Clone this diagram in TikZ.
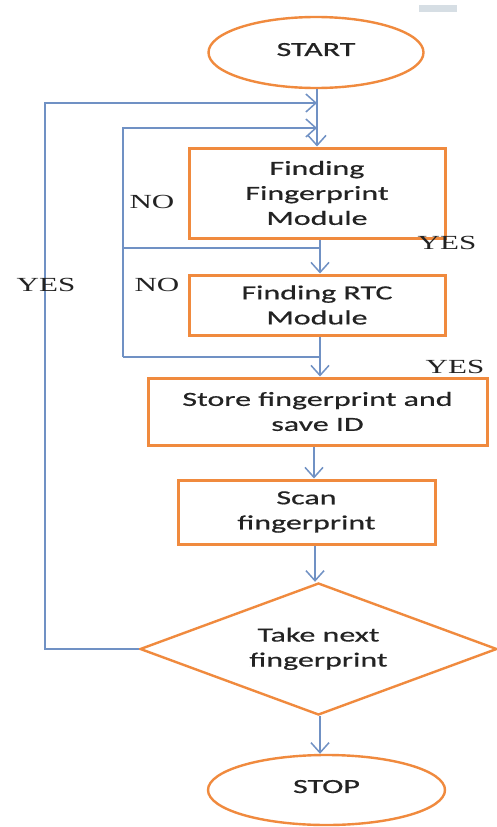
\documentclass[tikz,border=0pt]{standalone}
\usepackage{fontspec}
\setmainfont{Carlito}[FakeStretch=1.6,FakeBold=0.6]
\newfontfamily\lblfont{Liberation Serif}[FakeStretch=1.55]
\usetikzlibrary{shapes.geometric,arrows.meta}
\definecolor{orangeline}{RGB}{240,138,62}
\definecolor{blueline}{RGB}{112,145,196}
\definecolor{txt}{RGB}{35,35,35}
\definecolor{greyish}{RGB}{214,222,228}
\tikzset{
  boxnode/.style={draw=orangeline, line width=3pt, rectangle, inner sep=0pt, align=center, text=txt,
     font=\fontsize{20}{25}\selectfont},
  termnode/.style={draw=orangeline, line width=2.4pt, ellipse, inner sep=0pt, text=txt,
     font=\fontsize{20}{25}\selectfont},
  decnode/.style={draw=orangeline, line width=2.4pt, diamond, inner sep=0pt, align=center, text=txt,
     font=\fontsize{20}{25}\selectfont},
  flow/.style={draw=blueline, line width=1.8pt},
  arr/.style={flow, -{Straight Barb[length=10pt,width=18pt,line width=1.5pt]}},
  lbl/.style={inner sep=0pt, text=txt, font=\lblfont\fontsize{20}{24}\selectfont}
}
\begin{document}
\begin{tikzpicture}[x=1pt,y=-1pt]
\useasboundingbox (0,0) rectangle (497,827);
\fill[white] (0,0) rectangle (497,827);
\fill[greyish] (419,5) rectangle (457,12);

\node[termnode, minimum width=215pt, minimum height=71pt] (start) at (316,52.5) {\raisebox{6pt}{START}};
\node[boxnode, minimum width=256pt, minimum height=90pt] (box1) at (317,193) {Finding\\Fingerprint\\Module};
\node[boxnode, minimum width=256pt, minimum height=60pt] (box2) at (317,305) {Finding RTC\\Module};
\node[boxnode, minimum width=339pt, minimum height=67pt] (box3) at (317.5,411.5) {Store fingerprint and\\save ID};
\node[boxnode, minimum width=257pt, minimum height=64pt] (box4) at (306.5,512) {Scan\\fingerprint};
\node[decnode, minimum width=357pt, minimum height=132pt, aspect=2.7] (dia) at (318.5,649) {\raisebox{6pt}{\begin{tabular}{c}Take next\\fingerprint\end{tabular}}};
\node[termnode, minimum width=237pt, minimum height=70pt] (stop) at (326.5,790) {\raisebox{7pt}{STOP}};

\coordinate (oc) at (45,103);
\coordinate (jo) at (317,103);
\coordinate (ic1) at (123,128);
\coordinate (ji) at (317,128);
\coordinate (ic2) at (123,357);
\coordinate (j2) at (320,357);
\coordinate (im) at (123,248);
\coordinate (j1) at (320,248);

% main flow
\draw[arr] (start.south -| box1.north) -- (box1.north);
\draw[arr] ([xshift=3pt]box1.south) -- ([xshift=3pt]box1.south |- box2.north);
\draw[arr] ([xshift=3pt]box2.south) -- ([xshift=3pt]box2.south |- box3.north);
\draw[arr] ([xshift=-3.5pt]box3.south) -- ([xshift=-3.5pt]box3.south |- box4.north);
\draw[arr] ([xshift=8.5pt]box4.south) -- ([xshift=8.5pt]box4.south |- dia.north);
\draw[arr] ([xshift=1.5pt]dia.south) -- ([xshift=1.5pt]dia.south |- stop.north);

% loops
\draw[arr] (dia.west) -| (oc) -- (jo);
\draw[arr] (ic2) -- (ic1) -- (ji);
\draw[flow, line width=1.3pt] (im) -- (j1);
\draw[flow, line width=1.5pt] (ic2) -- (j2);

% labels
\node[lbl] (no1) at (152,202) {NO};
\node[lbl] (yes1) at (447,243) {YES};
\node[lbl] (no2) at (157,285) {NO};
\node[lbl] (yes2) at (46,285) {YES};
\node[lbl] (yes3) at (455,367) {YES};
\end{tikzpicture}
\end{document}
